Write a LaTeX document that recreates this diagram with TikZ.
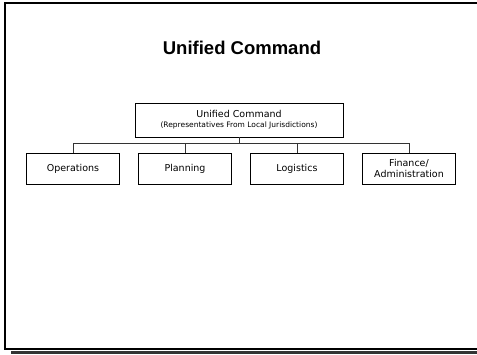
\documentclass[tikz,border=0pt]{standalone}
\usepackage{fontspec}
\setmainfont{DejaVu Sans}
\newfontfamily\titlefont{Liberation Sans}
\usetikzlibrary{positioning}

\tikzset{
  unit/.style={draw, line width=0.8pt, minimum width=93pt, minimum height=31pt,
    inner sep=2pt, align=center, font=\fontsize{9.5}{11}\selectfont},
  link/.style={draw=black!80, line width=0.8pt}
}

\begin{document}
\begin{tikzpicture}[x=1pt, y=-1pt, node distance=112pt, on grid]

        \useasboundingbox (0,0) rectangle (477,354);

        % slide frame and its shadow, open on the right
        \fill[black!80] (11,350.5) rectangle (477,354);
        \draw[line width=1.6pt] (477,3) -- (5,3) -- (5,349) -- (477,349);

        \node[font=\titlefont\bfseries\fontsize{18.5}{22}\selectfont] (title) at (242,48) {Unified Command};

        \node[unit, minimum width=208pt, minimum height=34pt] (uc) at (239,120)
            {Unified Command\\[-1pt]{\fontsize{7.5}{9}\selectfont (Representatives From Local Jurisdictions)}};

        \node[unit] (ops) at (73,168.5) {Operations};
        \node[unit, right=of ops] (plan) {Planning};
        \node[unit, right=of plan] (log) {Logistics};
        \node[unit, right=of log] (fin) {Finance/\\Administration};

        \coordinate (bus) at (239,143);

        \path[link] (uc.south) -- (bus);
        \foreach \n in {ops, plan, log, fin}
            \path[link] (bus) -| (\n.north);

\end{tikzpicture}
\end{document}
